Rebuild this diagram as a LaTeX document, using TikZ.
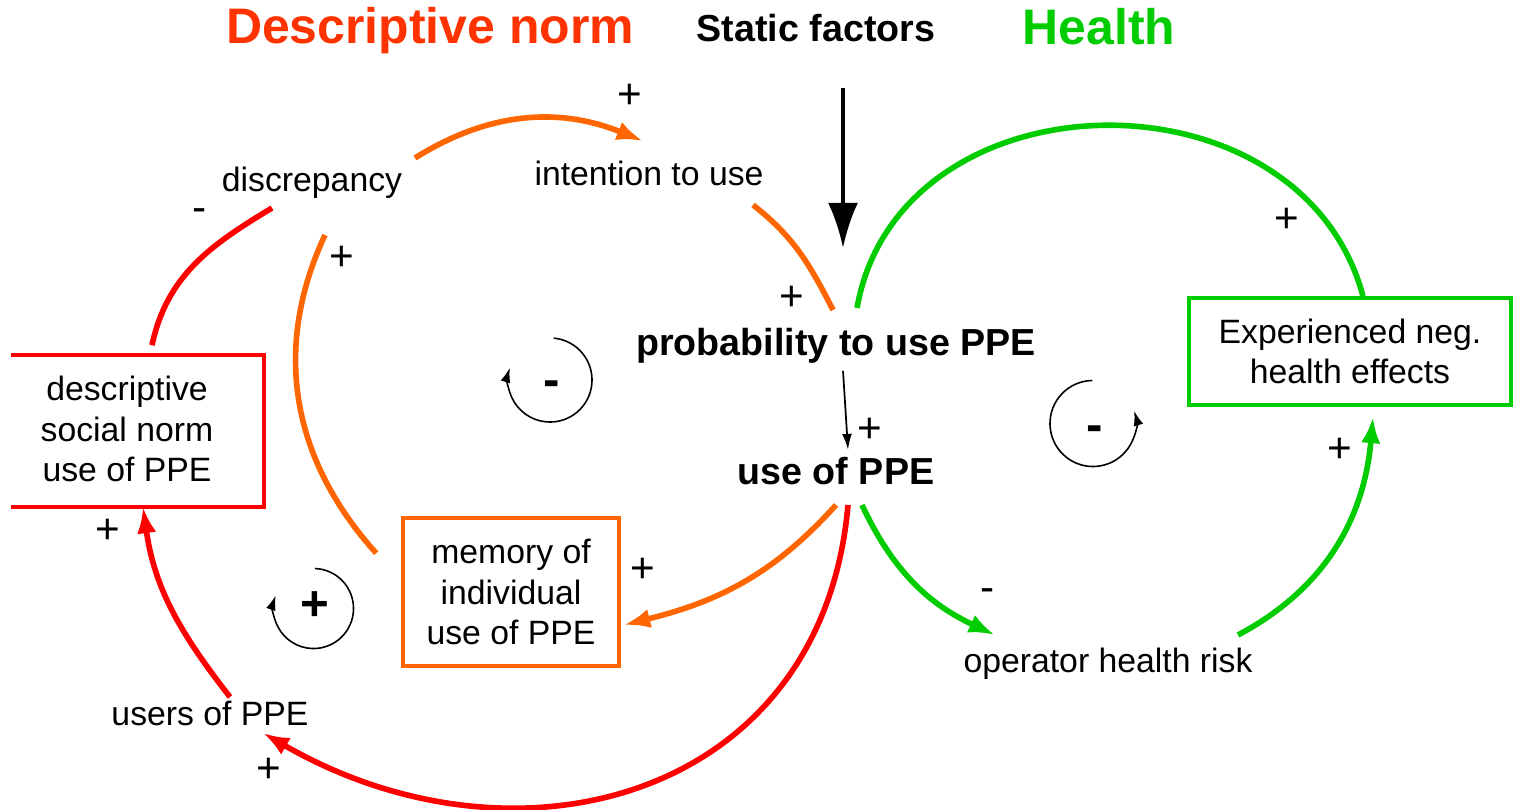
\documentclass[tikz,border=0pt]{standalone}
\usepackage{fontspec}
\setmainfont{Liberation Sans}
\usetikzlibrary{positioning, arrows.meta}
\definecolor{dnred}{RGB}{255,51,0}
\definecolor{lred}{RGB}{255,0,0}
\definecolor{lorange}{RGB}{255,102,0}
\definecolor{lgreen}{RGB}{0,204,0}
\tikzset{ttl/.style={font=\fontsize{14.2}{17}\selectfont\bfseries}}
\tikzset{var/.style={font=\fontsize{9.6}{11.5}\selectfont, align=center}}
\tikzset{bvar/.style={font=\fontsize{10.7}{13}\selectfont\bfseries}}
\tikzset{vbox/.style={var, draw=#1, line width=1pt}}
\tikzset{pol/.style={font=\fontsize{12}{14}\selectfont, inner sep=0pt}}
\tikzset{lpsign/.style={font=\fontsize{14}{16}\selectfont\bfseries, inner sep=0pt}}
\tikzset{lnk/.style={draw=#1, line width=1.6pt}}
\tikzset{lnkarr/.style={lnk=#1, -{Latex[length=7.5pt,width=5.5pt]}}}
\tikzset{loopar/.style={draw, line width=0.45pt, -{Latex[length=4.2pt,width=2.8pt]}}}

\begin{document}
\begin{tikzpicture}[x=0.01cm, y=0.01cm]
	\useasboundingbox (0,0) rectangle (1513,810);
	% headings
	\node[ttl, text=dnred] (tdesc) at (430,779) {Descriptive norm};
	\node[bvar] (tstatic) at (816,782) {Static factors};
	\node[ttl, text=lgreen] (thealth) at (1099,783.5) {Health};
	%
	\node[var] (discr) at (312,627) {discrepancy};
	\node[var] (intent) at (649,636.5) {intention to use};
	\node[bvar] (prob) at (836,464) {probability to use PPE};
	\node[bvar] (use) at (836,339) {use of PPE};
	\node[var] (oper) at (1108,146) {operator health risk};
	\node[var] (users) at (210,97) {users of PPE};
	\node[vbox=none, minimum width=2.70cm, minimum height=1.48cm] (norm) at (127,381)
		{descriptive\\social norm\\use of PPE};
	\node[vbox=lorange, minimum width=2.16cm, minimum height=1.48cm] (mem) at (511,218)
		{memory of\\individual\\use of PPE};
	\node[vbox=lgreen, minimum width=3.22cm, minimum height=1.07cm] (exp) at (1350,458.5)
		{Experienced neg.\\health effects};
	\draw[lred, line width=1pt] ([shift={(21,-2)}]norm.north west) -- ([shift={(0,-2)}]norm.north east)
		-- ([shift={(0,-2)}]norm.south east) -- ([shift={(21,-2)}]norm.south west);
	%
	\coordinate (discr-r) at (415,652);
	\coordinate (discr-b) at (325,575);
	\coordinate (discr-l) at (272,602);
	\coordinate (intent-l) at (643,669);
	\coordinate (intent-r) at (753,605);
	\coordinate (prob-l) at (833,500);
	\coordinate (prob-r) at (857,502);
	\coordinate (use-l) at (836,305);
	\coordinate (use-b) at (848,305);
	\coordinate (use-r) at (862,305);
	\coordinate (users-r) at (263,77);
	\coordinate (users-t) at (230,113);
	\coordinate (oper-l) at (995,175);
	\coordinate (oper-r) at (1238,175);
	\coordinate (sf-top) at (843,722);
	\coordinate (sf-tip) at (843,562);
	%
	\draw[lnkarr=lorange] (discr-r) to[out=32, in=158] (intent-l);
	\draw[lnk=lorange] (intent-r) to[out=-38, in=117] (prob-l);
	\draw[lnk=lorange] ([shift={(-25,-37)}]mem.north west)
		to[out=132, in=-115] (discr-b);
	\draw[lnkarr=lorange] (use-l) to[out=228, in=14] ([shift={(3,-33)}]mem.east);
	%
	\draw[lnkarr=lred] (use-b) to[out=265, in=-30, looseness=1.2] (users-r);
	\draw[lnkarr=lred] (users-t) to[out=128, in=-82] ([shift={(16,-2)}]norm.south);
	\draw[lnk=lred] ([shift={(25,8)}]norm.north) to[out=78, in=-149] (discr-l);
	%
	\draw[lnk=lgreen] (prob-r) to[out=80, in=105, looseness=1.22] ([shift={(13,0)}]exp.north);
	\draw[lnkarr=lgreen] (use-r) to[out=-65, in=155] (oper-l);
	\draw[lnkarr=lgreen] (oper-r) to[out=28, in=-95] ([shift={(23,-10)}]exp.south);
	%
	\draw[line width=1.1pt, -{Latex[length=12.8pt,width=8.5pt]}] (sf-top) -- (sf-tip);
	\draw[line width=0.5pt, -{Latex[length=4.5pt,width=2.8pt]}]
		([shift={(7,5)}]prob.south) -- ([shift={(12,-5)}]use.north);
	% polarities
	\node[pol] (p1) at (630,714) {+};
	\node[pol] (p2) at (200,595) {-};
	\node[pol] (p3) at (342,552) {+};
	\node[pol] (p4) at (792,512) {+};
	\node[pol] (p5) at (870,380) {+};
	\node[pol] (p6) at (1287,590) {+};
	\node[pol] (p7) at (1340,360) {+};
	\node[pol] (p8) at (988,215) {-};
	\node[pol] (p9) at (643,240) {+};
	\node[pol] (p10) at (108,279) {+};
	\node[pol] (p11) at (269,40) {+};
	% loops
	\node[lpsign] (lm1) at (552,421) {-};
	\node[lpsign] (lp1) at (315,204) {+};
	\node[lpsign] (lm2) at (1095,376) {-};
	\draw[loopar] (550,430) ++(85:42) arc[start angle=85, end angle=-197, radius=0.42cm];
	\draw[loopar] (313.5,201.5) ++(88:40) arc[start angle=88, end angle=-199, radius=0.40cm];
	\draw[loopar] (1093,386.5) ++(91:43) arc[start angle=91, end angle=377, radius=0.43cm];
\end{tikzpicture}
\end{document}
